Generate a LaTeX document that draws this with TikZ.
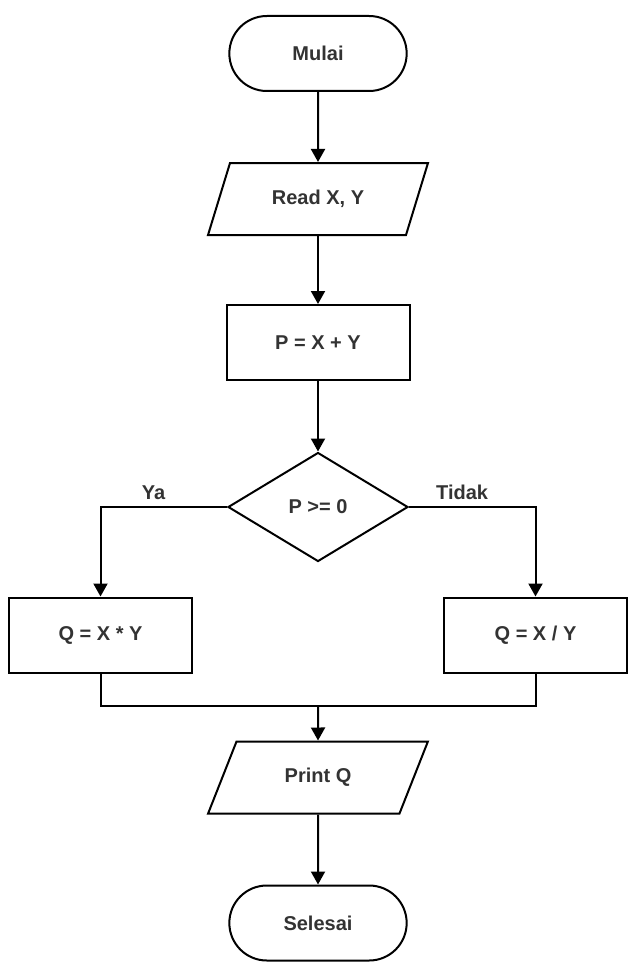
\documentclass[tikz,border=0pt]{standalone}
\usepackage{fontspec}
\setmainfont{Liberation Sans}
\usetikzlibrary{shapes.geometric,shapes.misc,arrows.meta}

\tikzset{
	fc/.style={draw, line width=2pt, font=\fontsize{20}{23}\selectfont\bfseries, text=black!80},
	terminal/.style={fc, rounded rectangle, minimum width=184pt, minimum height=75pt},
	iobox/.style={fc, trapezium, trapezium left angle=63, trapezium right angle=117,
		trapezium stretches=true, minimum width=220pt, minimum height=72pt},
	procbox/.style={fc, rectangle, minimum width=183pt, minimum height=75pt},
	decision/.style={fc, diamond, aspect=1.65, minimum width=180pt, minimum height=109pt, inner sep=0pt},
	arr/.style={line width=2pt, -{Triangle[length=13pt,width=14pt]}},
	conn/.style={line width=2pt},
	lbl/.style={font=\fontsize{20}{23}\selectfont\bfseries, text=black!80}
}

\begin{document}
\begin{tikzpicture}[x=1pt, y=-1pt]
\useasboundingbox (0,0) rectangle (637,971);

\pgfmathsetmacro{\colM}{318}
\pgfmathsetmacro{\colL}{100.5}
\pgfmathsetmacro{\colR}{535.5}

\node[terminal] (mulai) at (\colM,53.5) {Mulai};
\node[iobox] (baca) at (\colM,199) {Read X, Y};
\node[procbox] (hitungP) at (\colM,342.5) {P = X + Y};
\node[decision] (cek) at (\colM,507) {P >= 0};
\node[procbox] (kali) at (\colL,635) {Q = X * Y};
\node[procbox] (bagi) at (\colR,635) {Q = X / Y};
\coordinate (gabung) at (\colM,706);
\node[iobox] (cetak) at (\colM,777.5) {Print Q};
\node[terminal] (selesai) at (\colM,923) {Selesai};

\draw[arr] (mulai) -- (baca);
\draw[arr] (baca) -- (hitungP);
\draw[arr] (hitungP) -- (cek);
\draw[arr] (cek.west) -| (kali.north) node[lbl, pos=0.29, above=3pt] {Ya};
\draw[arr] (cek.east) -| (bagi.north) node[lbl, pos=0.21, above=3pt] {Tidak};
\draw[conn] (kali.south) |- (gabung);
\draw[conn] (bagi.south) |- (gabung);
\draw[arr] (gabung) -- (cetak);
\draw[arr] (cetak) -- (selesai);
\end{tikzpicture}
\end{document}
